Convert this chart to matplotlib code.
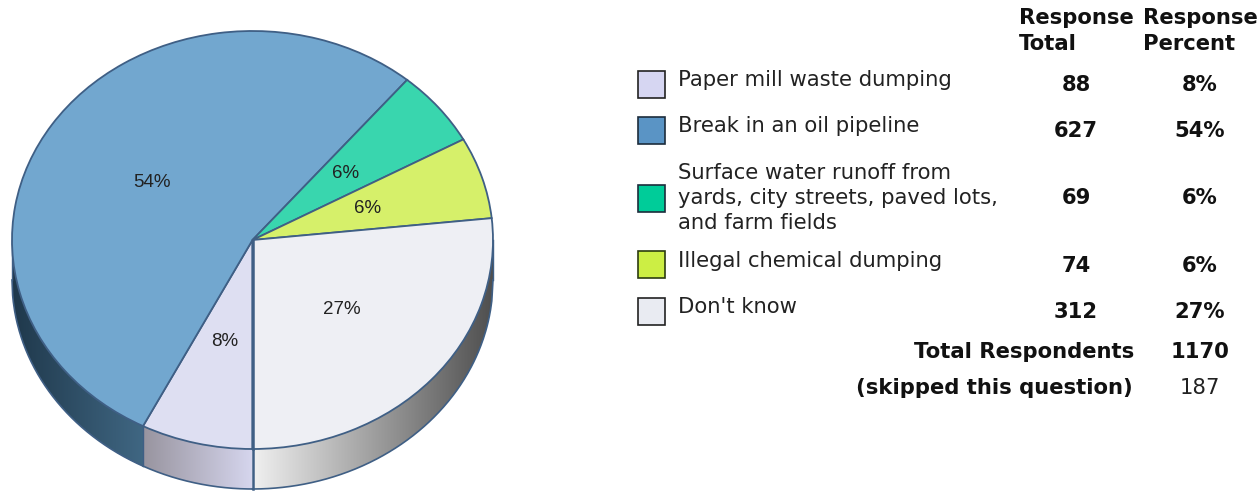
import numpy as np
import matplotlib
matplotlib.use("Agg")
import matplotlib.pyplot as plt
from matplotlib.colors import LinearSegmentedColormap
from matplotlib.patches import Polygon, Rectangle

labels = ["Paper mill waste dumping", "Break in an oil pipeline",
          "Surface water runoff from\nyards, city streets, paved lots,\nand farm fields",
          "Illegal chemical dumping", "Don't know"]
totals = [88, 627, 69, 74, 312]
percents = ["8%", "54%", "6%", "6%", "27%"]
total_respondents = 1170
skipped = 187

pie_colors = ["#dedff2", "#72a7cf", "#39d6ae", "#d6f06a", "#eeeff4"]
box_colors = ["#d6d6f2", "#5a94c5", "#00cc99", "#ccee44", "#e9ebf2"]
box_edges = ["#222222", "#1c2c3c", "#1c2c3c", "#2c3c10", "#222222"]
line_col = "#3f5f85"

W, H = 1259, 491
cx, cy, rx, ry, depth = 252.5, 240, 240.5, 209, 40

fig = plt.figure(figsize=(W / 100, H / 100), dpi=100)

# pie axes, one data unit = one radius
ax = fig.add_axes([0, 0, 500 / W, 1])
wedges, _, autotexts = ax.pie(totals, colors=pie_colors, startangle=270, counterclock=False,
                              autopct="%.0f%%", pctdistance=0.5,
                              wedgeprops=dict(edgecolor=line_col, linewidth=1.3, zorder=3),
                              textprops=dict(fontsize=13.5, family="Liberation Sans", color="#222222"))
for t in autotexts:
    t.set_zorder(6)
ax.set_aspect("auto")
xlim = ((0 - cx) / rx, (500 - cx) / rx)
ylim = ((cy - H) / ry, cy / ry)
d = depth / ry


def side_wall(x0, x1, c0, c1):
    # curved side of the pie between two x positions, gradient left to right
    xs = np.linspace(x0, x1, 200)
    top = -np.sqrt(np.clip(1 - xs ** 2, 0, 1))
    pts = np.r_[np.c_[xs, top], np.c_[xs[::-1], top[::-1] - d]]
    poly = Polygon(pts, closed=True, facecolor="none", edgecolor="none", transform=ax.transData)
    ax.add_patch(poly)
    cmap = LinearSegmentedColormap.from_list("w", [c0, c1])
    im = ax.imshow(np.linspace(0, 1, 256)[None, :], cmap=cmap, aspect="auto", zorder=1,
                   extent=(x0, x1, -1 - d - 0.02, 0.02), interpolation="bilinear")
    im.set_clip_path(poly)
    ax.plot(xs, top - d, color=line_col, lw=1.2, zorder=2)


# slice boundaries on the front half
x_split = -np.sin(totals[0] / sum(totals) * 2 * np.pi)
side_wall(-1, x_split, "#1f384b", "#406783")
side_wall(x_split, 0, "#98949f", "#d6d6ee")
side_wall(0, 1, "#f0f0f0", "#4e4e4e")

# vertical joins on the wall
y_split = -np.sqrt(1 - x_split ** 2)
ax.plot([x_split, x_split], [y_split, y_split - d], color=line_col, lw=1.0, zorder=2)
ax.plot([0, 0], [-1, -1 - d], color=line_col, lw=1.8, zorder=2)
ax.plot([0, 0], [0, -1], color=line_col, lw=1.8, zorder=4)
ax.plot([-1, -1], [0, -d], color=line_col, lw=1.0, zorder=2)
ax.plot([1, 1], [0, -d], color=line_col, lw=1.0, zorder=2)
ax.set_xlim(xlim)
ax.set_ylim(ylim)
ax.axis("off")

# table part, pixel coordinates
tx = fig.add_axes([0, 0, 1, 1])
tx.set_xlim(0, W)
tx.set_ylim(H, 0)
tx.axis("off")
tx.patch.set_alpha(0)

font = "DejaVu Sans"
fs = 15.2
tx.text(1019, 18, "Response", fontsize=fs, fontweight="bold", family=font, va="center", color="#111111")
tx.text(1019, 44, "Total", fontsize=fs, fontweight="bold", family=font, va="center", color="#111111")
tx.text(1143, 18, "Response", fontsize=fs, fontweight="bold", family=font, va="center", color="#111111")
tx.text(1143, 44, "Percent", fontsize=fs, fontweight="bold", family=font, va="center", color="#111111")

box_y = [84, 130, 198, 264, 311]
label_y = [80, 126, 198, 261, 307]
row_y = [85, 131, 198, 266, 312]
for i in range(len(labels)):
    tx.add_patch(Rectangle((638, box_y[i] - 13.5), 27, 27, facecolor=box_colors[i],
                           edgecolor=box_edges[i], linewidth=1.2))
    tx.text(678, label_y[i], labels[i], fontsize=fs, family=font, va="center", color="#222222",
            linespacing=1.31)
    tx.text(1076, row_y[i], str(totals[i]), fontsize=fs, fontweight="bold", family=font,
            ha="center", va="center", color="#111111")
    tx.text(1200, row_y[i], percents[i], fontsize=fs, fontweight="bold", family=font,
            ha="center", va="center", color="#111111")

tx.text(1134, 352, "Total Respondents", fontsize=fs, fontweight="bold", family=font, ha="right",
        va="center", color="#111111")
tx.text(1200, 352, str(total_respondents), fontsize=fs, fontweight="bold", family=font, ha="center",
        va="center", color="#111111")
tx.text(1133, 388, "(skipped this question)", fontsize=fs, fontweight="bold", family=font, ha="right",
        va="center", color="#111111")
tx.text(1200, 388, str(skipped), fontsize=fs, family=font, ha="center", va="center", color="#222222")

fig.savefig("out.png", dpi=100)
